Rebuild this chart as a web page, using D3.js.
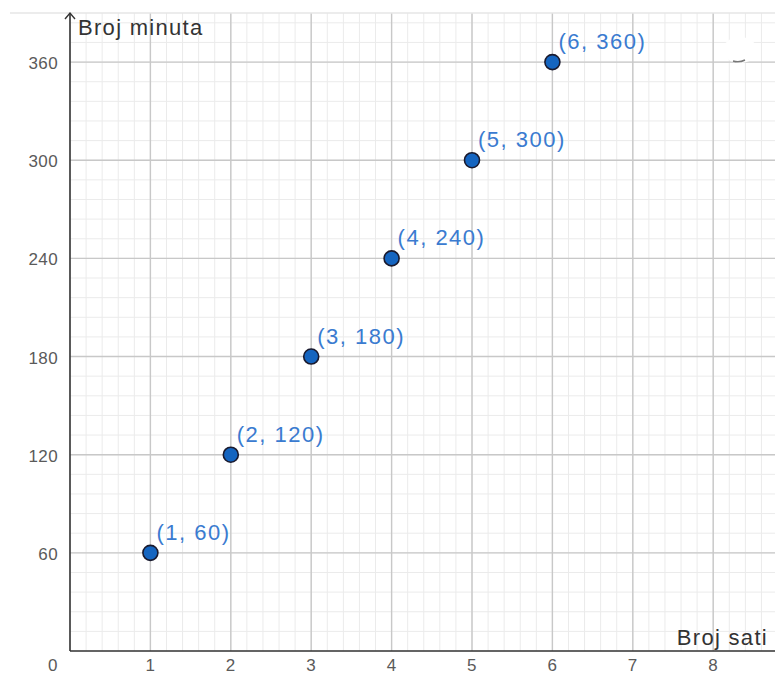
<!DOCTYPE html>
<html><head><meta charset="utf-8">
<script src="https://cdn.jsdelivr.net/npm/d3@7"></script>
<style>body{margin:0;background:#fff}svg{display:block}</style>
</head><body>
<svg id="c" width="775" height="675"></svg>
<script>
const hours = [1, 2, 3, 4, 5, 6];
const minutes = [60, 120, 180, 240, 300, 360];
const xTicks = [1, 2, 3, 4, 5, 6, 7, 8];
const yTicks = [60, 120, 180, 240, 300, 360];
const xLabel = "Broj sati";
const yLabel = "Broj minuta";

const svg = d3.select("#c");
const x = d3.scaleLinear().domain([0, (775 - 70) / 80.4]).range([70, 775]);
const y = d3.scaleLinear().domain([0, 390]).range([651, 13]);
const [x0, x1] = x.range();
const [yb, yt] = y.range();

const g = svg.append("g");
// minor grid
const xMinor = d3.range(0, x.domain()[1], 0.2);
const yMinor = d3.range(0, 391, 12);
g.selectAll(".xm").data(xMinor).join("line")
  .attr("x1", d => x(d)).attr("x2", d => x(d)).attr("y1", yb).attr("y2", yt)
  .attr("stroke", "#ebebeb").attr("stroke-width", 1);
g.selectAll(".ym").data(yMinor).join("line")
  .attr("x1", x0).attr("x2", x1).attr("y1", d => y(d)).attr("y2", d => y(d))
  .attr("stroke", "#ebebeb").attr("stroke-width", 1);
// major grid
g.selectAll(".xM").data(xTicks).join("line")
  .attr("x1", d => x(d)).attr("x2", d => x(d)).attr("y1", yb).attr("y2", yt)
  .attr("stroke", "#c8c8c8").attr("stroke-width", 1.4);
g.selectAll(".yM").data(yTicks).join("line")
  .attr("x1", x0).attr("x2", x1).attr("y1", d => y(d)).attr("y2", d => y(d))
  .attr("stroke", "#c8c8c8").attr("stroke-width", 1.4);
// top faint border
g.append("line").attr("x1", 10).attr("x2", 775).attr("y1", yt).attr("y2", yt)
  .attr("stroke", "#e6e6e6").attr("stroke-width", 1.5);

// smudge top-right
svg.append("ellipse").attr("cx", 740).attr("cy", 50).attr("rx", 17).attr("ry", 13).attr("fill", "#fff");
svg.append("path").attr("d", "M733,61 q6,2 12,-1").attr("stroke", "#777").attr("stroke-width", 1.5).attr("fill", "none");

// axes
svg.append("line").attr("x1", x0).attr("x2", x1).attr("y1", yb).attr("y2", yb)
  .attr("stroke", "#333").attr("stroke-width", 1.6);
svg.append("line").attr("x1", x0).attr("x2", x0).attr("y1", yb).attr("y2", yt)
  .attr("stroke", "#333").attr("stroke-width", 1.6);
svg.append("path").attr("d", `M${x0-5},${yt+6} L${x0},${yt} L${x0+5},${yt+6}`)
  .attr("stroke", "#333").attr("stroke-width", 1.4).attr("fill", "none");

const font = "Arial, 'Liberation Sans', sans-serif";
// tick labels
svg.selectAll(".xt").data([0].concat(xTicks)).join("text")
  .attr("x", d => d === 0 ? 53 : x(d)).attr("y", 671)
  .attr("text-anchor", "middle").attr("font-family", font).attr("font-size", 17)
  .attr("letter-spacing", 0.4).attr("fill", "#5a5a5a").text(d => d);
svg.selectAll(".yt").data(yTicks).join("text")
  .attr("x", 58).attr("y", d => y(d) + 7)
  .attr("text-anchor", "end").attr("font-family", font).attr("font-size", 17)
  .attr("letter-spacing", 0.4).attr("fill", "#5a5a5a").text(d => d);

// axis labels
svg.append("text").attr("x", 78).attr("y", 35).attr("font-family", font).attr("font-size", 22)
  .attr("letter-spacing", 1.3).attr("fill", "#333").text(yLabel);
svg.append("text").attr("x", 768).attr("y", 645).attr("text-anchor", "end")
  .attr("font-family", font).attr("font-size", 22).attr("letter-spacing", 1.3)
  .attr("fill", "#333").text(xLabel);

// points
const pts = hours.map((h, i) => ({h, m: minutes[i]}));
svg.selectAll(".pt").data(pts).join("circle")
  .attr("cx", d => x(d.h)).attr("cy", d => y(d.m)).attr("r", 7.5)
  .attr("fill", "#1565c0").attr("stroke", "#1a1a2e").attr("stroke-width", 1.6);
svg.selectAll(".pl").data(pts).join("text")
  .attr("x", d => x(d.h) + 6).attr("y", d => y(d.m) - 13)
  .attr("font-family", font).attr("font-size", 22).attr("letter-spacing", 1.5)
  .attr("fill", "#3a7bd0").text(d => `(${d.h}, ${d.m})`);
</script>
</body></html>
